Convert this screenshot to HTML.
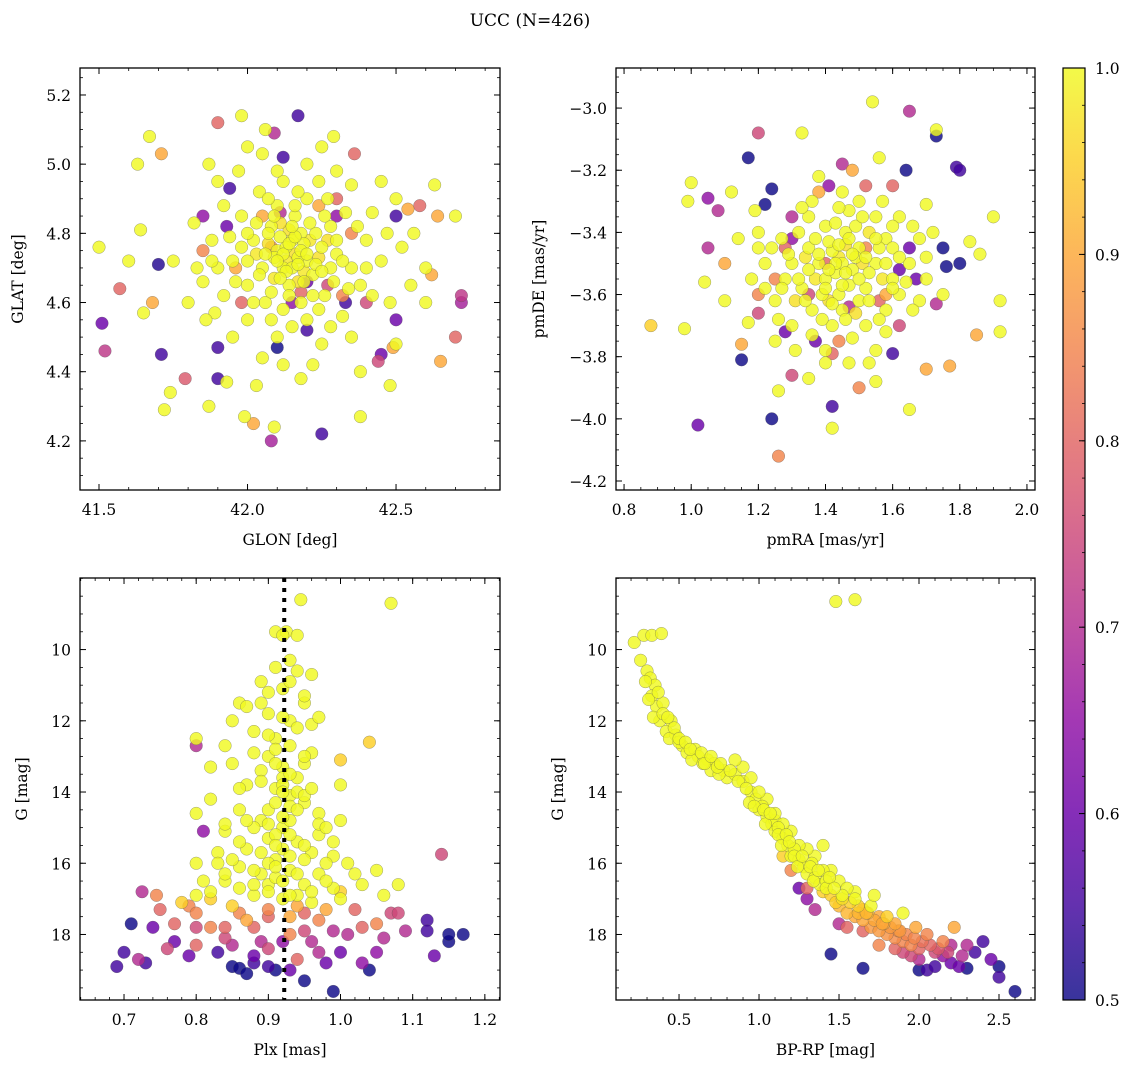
<!DOCTYPE html>
<html><head><meta charset="utf-8">
<style>
html,body{margin:0;padding:0;background:#fff;}
svg{display:block;font-family:"DejaVu Serif","Liberation Serif",serif;}
</style></head>
<body>
<svg id="fig" width="1136" height="1067" viewBox="0 0 1136 1067" xmlns="http://www.w3.org/2000/svg">
<text x="530" y="26" font-size="17" text-anchor="middle">UCC (N=426)</text>
</svg>
<script>
// ---- data ----
const panel1Points = [
[41.5,4.76,1],[41.51,4.54,0.6],[41.52,4.46,0.72],[41.57,4.64,0.8],[41.6,4.72,1],[41.65,4.57,1],[41.64,4.81,1],[41.67,5.08,1],[41.63,5.0,1],[41.71,5.03,0.9],[41.7,4.71,0.52],[41.71,4.45,0.55],[41.68,4.6,0.9],[41.72,4.29,1],[41.74,4.34,1],[41.79,4.38,0.78],[41.87,4.3,1],[41.9,4.47,0.55],[41.9,4.38,0.55],[41.89,4.57,1],[41.9,5.12,0.8],[41.98,5.14,1],[41.94,4.93,0.55],[41.87,5.0,1],[41.93,4.37,1],[41.99,4.27,1],[42.02,4.25,0.9],[42.09,4.24,1],[42.08,4.2,0.68],[42.25,4.22,0.55],[42.17,5.14,0.55],[42.09,5.09,0.7],[42.06,5.1,1],[42.29,5.08,1],[42.36,5.03,0.8],[42.38,4.27,1],[42.48,4.36,1],[42.64,4.85,0.9],[42.58,4.88,0.8],[42.54,4.87,0.9],[42.63,4.94,1],[42.7,4.85,1],[42.72,4.62,0.72],[42.72,4.6,0.68],[42.7,4.5,0.8],[42.62,4.68,0.9],[42.65,4.43,0.9],[42.49,4.47,0.9],[42.44,4.43,0.75],[42.5,4.85,0.55],[42.5,4.48,1],[42.6,4.6,1],[42.33,4.6,0.55],[42.2,4.52,0.55],[42.1,4.47,0.5],[42.18,4.38,1],[42.03,4.36,1],[42.05,5.03,1],[42.12,5.02,0.55],
[42.1,4.75,1],[42.15,4.78,1],[42.2,4.72,1],[42.12,4.7,1],[42.18,4.8,1],[42.08,4.82,1],[42.25,4.76,1],[42.05,4.7,1],[42.14,4.65,1],[42.22,4.68,1],[42.3,4.74,1],[42.16,4.85,1],[42.1,4.88,1],[42.02,4.78,1],[42.28,4.82,1],[42.2,4.9,1],[42.35,4.7,1],[42.0,4.65,1],[41.95,4.72,1],[42.06,4.6,1],[42.18,4.6,1],[42.26,4.62,1],[42.4,4.78,1],[42.33,4.86,1],[41.98,4.85,1],[42.12,4.95,1],[42.24,4.95,1],[42.38,4.65,1],[41.92,4.62,1],[42.08,4.55,1],[42.2,4.55,1],[42.32,4.56,1],[42.45,4.72,1],[41.88,4.78,1],[41.9,4.7,1],[42.04,4.92,1],[42.42,4.86,1],[42.13,4.76,1],[42.17,4.73,1],[42.11,4.79,1],[42.19,4.77,1],[42.15,4.7,1],[42.09,4.73,1],[42.23,4.8,1],[42.0,4.8,1],[42.28,4.7,1],[41.85,4.66,1],[41.82,4.83,1],[42.48,4.6,1],[42.52,4.76,1],[42.55,4.65,1],[42.35,4.5,1],[41.95,4.5,1],[42.1,4.5,1],[42.25,4.48,1],[41.8,4.6,1],[42.05,4.44,1],[42.45,4.95,1],[41.97,4.98,1],[42.3,4.98,1],[42.6,4.7,1],[41.75,4.72,1],
[42.16,4.74,0.97],[42.14,4.81,0.97],[42.21,4.78,0.98],[42.07,4.77,0.97],[42.19,4.69,0.98],[42.24,4.73,0.97],[42.13,4.72,0.98],[42.11,4.83,0.97],[42.27,4.78,0.97],[42.03,4.74,0.98],[42.17,4.66,0.97],[42.09,4.67,0.98],
[42.12,4.74,1],[42.14,4.77,1],[42.16,4.79,1],[42.18,4.75,1],[42.1,4.72,1],[42.2,4.74,1],[42.13,4.69,1],[42.17,4.71,1],[42.11,4.67,1],[42.19,4.66,1],[42.15,4.82,1],[42.21,4.83,1],[42.07,4.8,1],[42.09,4.85,1],[42.23,4.71,1],[42.25,4.69,1],[42.06,4.74,1],[42.04,4.68,1],[42.26,4.85,1],[42.03,4.83,1],[42.16,4.88,1],[42.14,4.62,1],[42.22,4.62,1],[42.08,4.63,1],[42.3,4.78,1],[42.29,4.66,1],[42.0,4.72,1],[41.98,4.76,1],[42.32,4.72,1],[42.12,4.58,1],[42.17,4.92,1],[42.07,4.9,1],[42.27,4.9,1],[42.34,4.64,1],[41.96,4.66,1],[42.02,4.6,1],[42.24,4.58,1],[42.37,4.82,1],[42.4,4.7,1],[41.94,4.79,1],[42.1,4.98,1],[42.2,5.0,1],[42.42,4.62,1],[42.35,4.94,1],[41.92,4.88,1],[42.15,4.53,1],[42.28,4.53,1],[42.0,4.55,1],[41.88,4.72,1],[42.47,4.8,1],[42.12,4.42,1],[41.83,4.7,1],[42.56,4.8,1],[42.22,4.42,1],[41.86,4.55,1],[42.38,4.4,1],[42.5,4.9,1],[41.9,4.95,1],[42.0,5.05,1],[42.25,5.05,1],
[42.08,4.76,0.85],[42.24,4.88,0.9],[42.18,4.63,0.8],[41.96,4.7,0.9],[42.32,4.62,0.85],[42.11,4.86,0.7],[42.2,4.66,0.6],[42.3,4.85,0.65],
[41.98,4.6,0.8],[42.3,4.9,0.8],[42.4,4.6,0.75],[41.85,4.75,0.85],[42.05,4.85,0.9],[42.35,4.8,0.85],[42.15,4.6,0.65],[41.93,4.82,0.6],[42.27,4.65,0.75],[42.5,4.55,0.6],[41.85,4.85,0.65],[42.45,4.45,0.6]
];
const panel2Points = [
[0.88,-3.7,0.95],[0.99,-3.3,1],[1.0,-3.24,1],[0.98,-3.71,1],[1.02,-4.02,0.6],[1.05,-3.29,0.65],[1.05,-3.45,0.7],[1.08,-3.33,0.7],[1.04,-3.56,1],[1.12,-3.27,1],[1.15,-3.81,0.5],[1.15,-3.76,0.9],[1.17,-3.16,0.5],[1.19,-3.33,1],[1.2,-3.08,0.75],[1.22,-3.31,0.5],[1.24,-3.26,0.5],[1.24,-4.0,0.5],[1.26,-4.12,0.85],[1.26,-3.91,1],[1.28,-3.72,0.6],[1.33,-3.08,1],[1.41,-3.25,0.65],[1.42,-3.96,0.55],[1.42,-4.03,1],[1.54,-2.98,1],[1.65,-3.01,0.7],[1.73,-3.07,1],[1.73,-3.09,0.5],[1.79,-3.19,0.55],[1.8,-3.2,0.55],[1.64,-3.2,0.5],[1.7,-3.31,1],[1.75,-3.45,0.5],[1.76,-3.51,0.5],[1.8,-3.5,0.5],[1.83,-3.43,1],[1.86,-3.47,1],[1.9,-3.35,1],[1.92,-3.62,1],[1.92,-3.72,1],[1.85,-3.73,0.9],[1.77,-3.83,0.9],[1.73,-3.63,0.7],[1.7,-3.84,0.9],[1.65,-3.97,1],[1.6,-3.79,0.55],[1.5,-3.9,0.85],[1.47,-3.82,1],[1.55,-3.88,1],[1.3,-3.86,0.75],[1.35,-3.87,1],[1.42,-3.79,0.8],[1.2,-3.66,0.75],[1.17,-3.69,1],[1.2,-3.6,0.85],[1.6,-3.25,0.8],[1.52,-3.25,0.8],[1.45,-3.18,0.7],[1.56,-3.16,1],[1.48,-3.2,0.9],[1.38,-3.27,0.9],[1.3,-3.35,0.7],[1.65,-3.45,0.6],[1.67,-3.55,0.6],[1.62,-3.7,0.75],[1.37,-3.75,0.6],[1.1,-3.5,0.9],[1.14,-3.42,1],[1.25,-3.55,0.85],[1.28,-3.45,0.8],[1.62,-3.35,1],[1.66,-3.38,1],[1.7,-3.48,1],[1.1,-3.62,1],[1.56,-3.62,0.8],
[1.45,-3.5,1],[1.42,-3.46,1],[1.48,-3.52,1],[1.5,-3.45,1],[1.4,-3.55,1],[1.38,-3.5,1],[1.52,-3.58,1],[1.46,-3.4,1],[1.44,-3.6,1],[1.35,-3.45,1],[1.55,-3.5,1],[1.33,-3.58,1],[1.58,-3.42,1],[1.4,-3.38,1],[1.5,-3.62,1],[1.36,-3.65,1],[1.6,-3.55,1],[1.3,-3.5,1],[1.47,-3.33,1],[1.55,-3.35,1],[1.27,-3.42,1],[1.62,-3.6,1],[1.42,-3.7,1],[1.52,-3.7,1],[1.25,-3.62,1],[1.28,-3.55,1],[1.58,-3.65,1],[1.35,-3.35,1],[1.43,-3.53,1],[1.49,-3.48,1],[1.41,-3.43,1],[1.53,-3.53,1],[1.47,-3.57,1],[1.39,-3.6,1],[1.56,-3.45,1],[1.32,-3.4,1],[1.22,-3.5,1],[1.65,-3.5,1],[1.6,-3.45,1],[1.45,-3.65,1],[1.3,-3.7,1],[1.2,-3.45,1],[1.68,-3.62,1],[1.36,-3.3,1],[1.5,-3.3,1],[1.25,-3.75,1],[1.55,-3.78,1],[1.4,-3.82,1],[1.18,-3.55,1],[1.72,-3.4,1],
[1.44,-3.48,0.98],[1.51,-3.5,0.97],[1.37,-3.55,0.98],[1.46,-3.44,0.97],[1.53,-3.4,0.98],[1.41,-3.62,0.97],[1.34,-3.48,0.98],[1.49,-3.66,0.97],[1.57,-3.55,0.98],[1.31,-3.62,0.97],
[1.43,-3.5,1],[1.46,-3.53,1],[1.48,-3.47,1],[1.41,-3.52,1],[1.44,-3.44,1],[1.5,-3.55,1],[1.38,-3.47,1],[1.45,-3.57,1],[1.52,-3.48,1],[1.4,-3.58,1],[1.47,-3.42,1],[1.35,-3.52,1],[1.55,-3.42,1],[1.42,-3.63,1],[1.53,-3.62,1],[1.37,-3.42,1],[1.58,-3.5,1],[1.32,-3.55,1],[1.49,-3.38,1],[1.43,-3.37,1],[1.6,-3.58,1],[1.34,-3.62,1],[1.46,-3.68,1],[1.56,-3.68,1],[1.29,-3.47,1],[1.62,-3.48,1],[1.39,-3.68,1],[1.51,-3.35,1],[1.27,-3.58,1],[1.64,-3.56,1],[1.44,-3.32,1],[1.33,-3.32,1],[1.57,-3.3,1],[1.36,-3.73,1],[1.48,-3.74,1],[1.6,-3.38,1],[1.24,-3.45,1],[1.66,-3.65,1],[1.4,-3.78,1],[1.53,-3.82,1],[1.22,-3.58,1],[1.7,-3.55,1],[1.31,-3.78,1],[1.45,-3.27,1],[1.58,-3.72,1],[1.26,-3.68,1],[1.68,-3.42,1],[1.2,-3.4,1],[1.75,-3.6,1],[1.38,-3.22,1],
[1.4,-3.5,0.8],[1.52,-3.45,0.85],[1.35,-3.6,0.75],[1.58,-3.6,0.9],[1.3,-3.42,0.65],[1.47,-3.64,0.7],[1.62,-3.52,0.6],[1.44,-3.75,0.85]
];
const panel3Points = [
[0.945,8.6,1],[1.07,8.7,1],[0.91,9.5,1],[0.925,9.5,1],[0.93,10.3,1],[0.94,10.6,1],[0.96,10.7,1],[0.89,10.9,1],[0.92,11.1,1],[0.86,11.5,1],[0.87,11.6,1],[0.9,11.8,1],[0.95,11.5,1],[0.93,12.0,1],[0.88,12.3,1],[0.91,12.5,1],[0.8,12.5,1],[0.84,12.7,1],[0.96,12.9,1],[0.9,13.0,1],[0.92,13.3,1],[0.94,13.6,1],[0.87,13.8,1],[0.91,13.9,1],[0.93,14.1,1],[0.82,14.2,1],[0.86,14.5,1],[0.8,14.6,1],[0.95,14.3,1],[0.97,14.6,1],[1.0,14.8,1],[0.89,14.8,1],[0.92,15.0,1],[0.84,15.1,1],[0.9,15.3,1],[0.94,15.4,1],[0.87,15.6,1],[0.83,15.7,1],[0.96,15.7,1],[0.99,15.8,1],[0.91,15.9,1],[0.8,16.0,1],[0.86,16.1,1],[0.89,16.3,1],[0.93,16.2,1],[0.97,16.3,1],[1.02,16.3,1],[1.05,16.2,1],[0.84,16.5,1],[0.9,16.6,1],[0.95,16.6,1],[0.99,16.7,1],[1.08,16.6,1],[0.82,16.8,1],[0.88,16.9,1],[0.92,17.0,1],[0.96,17.1,1],[1.0,17.0,1],[0.78,17.1,0.95],[0.85,17.2,0.95],[0.91,16.4,1],[0.93,14.8,1],[0.92,13.6,1],[1.04,12.6,0.95],[1.0,13.1,0.95],[0.94,14.0,1],[0.9,14.5,1],[0.88,15.0,1],[0.95,15.9,1],[0.91,12.8,1],
[0.92,13.8,1],[0.93,14.4,1],[0.91,15.2,1],[0.92,15.6,1],[0.9,16.0,1],[0.94,16.9,1],[0.89,13.4,1],[0.95,13.2,1],[0.88,16.6,1],[0.86,15.4,1],[0.97,15.2,1],[0.98,16.0,1],[0.85,13.2,1],
[0.92,9.6,1],[0.93,10.9,1],[0.95,11.3,1],[0.9,11.2,1],[0.92,11.9,1],[0.94,12.2,1],[0.9,12.4,1],[0.93,12.7,1],[0.95,13.0,1],[0.91,13.2,1],[0.93,13.5,1],[0.89,13.7,1],[0.92,14.0,1],[0.95,14.1,1],[0.91,14.3,1],[0.94,14.5,1],[0.92,14.7,1],[0.9,14.9,1],[0.93,15.2,1],[0.91,15.5,1],[0.95,15.5,1],[0.89,15.7,1],[0.93,15.8,1],[0.91,16.1,1],[0.94,16.3,1],[0.92,16.5,1],[0.9,16.8,1],[0.96,16.8,1],[0.93,16.9,1],[0.88,16.2,1],[0.86,16.7,1],[0.98,16.5,1],[0.85,15.9,1],[0.99,15.4,1],[0.87,14.8,1],[0.97,14.9,1],[0.86,13.9,1],[0.96,13.9,1],[0.88,12.9,1],[0.96,12.1,1],[0.84,16.3,1],[1.01,16.0,1],[0.83,16.0,1],[1.03,16.6,1],[0.81,16.5,1],[1.06,16.9,1],[0.8,16.9,1],[0.97,11.9,1],[0.89,11.5,1],[0.94,9.6,1],[0.91,10.5,1],[0.85,12.0,1],[1.0,13.8,1],[0.82,13.3,1],[0.98,15.0,1],[0.84,14.9,1],
[0.9,17.3,0.85],[0.95,17.4,0.8],[0.88,17.8,0.8],[0.99,17.9,0.7],[0.86,17.4,0.85],[0.92,18.2,0.65],[0.97,18.5,0.7],[0.85,18.3,0.7],[0.8,17.8,0.75],[1.03,17.8,0.8],[0.79,18.6,0.6],[0.88,18.8,0.55],[0.93,19.0,0.6],[1.05,18.5,0.65],[1.09,17.9,0.7],[0.75,17.3,0.8],
[0.8,12.7,0.7],[0.81,15.1,0.65],[0.69,18.9,0.55],[0.7,18.5,0.55],[0.71,17.7,0.5],[0.72,18.7,0.7],[0.73,18.8,0.55],[0.725,16.8,0.7],[0.74,17.8,0.6],[0.745,16.9,0.85],[0.77,17.7,0.8],[0.77,18.2,0.6],[0.79,17.2,0.85],[0.8,17.4,0.85],[0.8,18.3,0.8],[0.82,17.8,0.85],[0.83,18.5,0.55],[0.84,18.1,0.75],[0.85,18.9,0.5],[0.86,18.95,0.5],[0.87,19.1,0.5],[0.88,18.6,0.6],[0.89,18.2,0.7],[0.9,18.9,0.55],[0.91,19.0,0.5],[0.9,17.5,0.8],[0.93,18.0,0.85],[0.94,18.7,0.8],[0.95,19.3,0.5],[0.96,18.2,0.7],[0.97,17.6,0.85],[0.98,18.8,0.6],[0.99,19.6,0.5],[1.0,18.5,0.6],[1.01,18.0,0.7],[1.02,17.3,0.8],[1.03,18.8,0.65],[1.04,19.0,0.5],[1.05,17.7,0.85],[1.06,18.1,0.7],[1.07,17.4,0.75],[1.08,17.4,0.75],[1.12,17.6,0.55],[1.12,17.9,0.55],[1.13,18.6,0.6],[1.14,15.75,0.75],[1.15,18.2,0.5],[1.15,18.0,0.5],[1.17,18.0,0.5],[0.93,17.5,0.9],[0.87,17.6,0.9],[0.98,17.3,0.9],[0.84,17.8,0.8],[0.76,18.4,0.75],[1.0,16.8,0.95],[0.82,17.0,0.95],[0.95,17.9,0.75],[0.9,18.4,0.75],[0.94,17.2,0.9]
];
const panel4Points = [
[0.22,9.8,1],[0.28,9.6,1],[0.33,9.6,1],[0.39,9.55,1],[0.3,10.6,1],[0.32,10.8,1],[0.35,11.0,1],[0.33,11.3,1],[0.36,11.6,1],[0.4,11.5,1],[0.38,12.0,1],[0.42,12.3,1],[0.45,12.0,1],[0.48,12.4,1],[0.52,12.7,1],[0.55,12.9,1],[0.6,12.8,1],[0.62,13.0,1],[0.68,13.1,1],[0.72,13.2,1],[0.78,13.4,1],[0.8,13.6,1],[0.85,13.5,1],[0.9,13.7,1],[0.95,14.0,1],[0.98,14.2,1],[1.0,14.5,1],[1.05,14.7,1],[1.08,14.9,1],[1.1,15.1,1],[1.15,15.3,1],[1.18,15.5,1],[1.2,15.8,1],[1.25,15.9,1],[1.28,16.1,1],[1.3,16.3,1],[1.35,16.4,1],[1.38,16.6,1],[1.4,16.8,0.95],[1.45,16.9,0.95],[1.48,17.1,0.95],[1.5,17.2,0.92],[1.55,17.4,0.92],[1.6,17.5,0.9],[1.65,17.6,0.9],[1.7,17.8,0.88],[1.75,17.9,0.88],[1.8,18.0,0.87],[1.85,18.1,0.86],[1.9,18.2,0.85],[1.95,18.3,0.85],[2.0,18.4,0.8],
[1.48,8.65,1],[1.6,8.6,1],
[1.45,18.55,0.5],[1.65,18.95,0.5],[2.0,19.0,0.5],[2.05,19.0,0.55],[2.1,18.9,0.55],[2.2,18.8,0.6],[2.25,18.9,0.6],[2.3,18.95,0.5],[2.35,18.5,0.55],[2.4,18.2,0.55],[2.45,18.7,0.6],[2.5,18.9,0.5],[2.5,19.2,0.55],[2.6,19.6,0.5],[2.2,18.3,0.7],[2.1,18.5,0.75],[1.95,18.6,0.75],[1.85,18.4,0.8],[1.75,18.3,0.85],[2.22,17.8,0.9],[1.9,17.4,1],[1.65,17.3,0.9],[1.55,17.8,0.8],[1.5,17.7,0.7],[1.35,17.3,0.7],[1.3,17.0,0.65],[1.25,16.7,0.6],[1.35,15.8,1],[1.4,15.5,1],[1.2,15.1,1],[1.05,14.2,1],[0.9,13.3,1],[0.85,13.1,1],[1.0,14.0,1],[1.1,14.8,1],[1.15,14.9,1],[1.3,15.6,1],[1.45,16.2,1],[1.5,16.5,1],[1.6,16.8,1],[1.7,17.2,1],[1.8,17.5,0.95],[1.6,17.0,1],[1.55,16.7,1],[1.4,16.2,1],[1.25,15.5,1],[1.1,14.6,1],[0.95,13.6,1],[0.7,13.4,1],[0.58,13.1,1],[1.72,16.9,1],[1.85,17.7,0.9],[2.05,18.0,0.85],[2.15,18.2,0.85],[1.98,17.8,0.9],[1.75,17.5,0.9],[1.65,17.9,0.8],[2.3,18.3,0.7],[2.15,18.6,0.65],[1.3,16.7,0.8],[1.2,16.2,0.85],[1.15,15.8,0.95],[2.0,18.7,0.7],[1.9,18.5,0.75],
[0.34,11.9,1],[0.44,12.5,1],[0.5,12.6,1],[0.65,13.2,1],[0.75,13.5,1],[1.02,14.4,1],[1.12,15.0,1],[1.22,15.6,1],[1.33,16.0,1],[1.42,16.5,1],[1.52,16.9,1],[1.62,17.2,0.95],[1.68,17.4,0.92],[1.78,17.7,0.9],[1.88,17.9,0.88],
[0.26,10.3,1],[0.29,10.9,1],[0.31,11.4,1],[0.37,11.2,1],[0.4,11.8,1],[0.43,11.9,1],[0.47,12.2,1],[0.5,12.5,1],[0.54,12.6,1],[0.57,12.8,1],[0.64,12.9,1],[0.66,13.2,1],[0.7,13.0,1],[0.74,13.3,1],[0.76,13.2,1],[0.82,13.4,1],[0.87,13.7,1],[0.92,13.9,1],[0.94,14.3,1],[0.97,14.4,1],[1.03,14.5,1],[1.04,14.9,1],[1.07,14.6,1],[1.12,15.2,1],[1.14,15.5,1],[1.17,15.2,1],[1.19,15.4,1],[1.22,15.8,1],[1.24,16.1,1],[1.27,15.8,1],[1.32,16.1,1],[1.34,16.5,1],[1.37,16.2,1],[1.42,16.7,1],[1.44,16.4,1],[1.47,16.7,1],[1.52,17.0,0.97],[1.57,17.1,0.95],[1.62,17.4,0.92],[1.67,17.4,0.92],[1.72,17.6,0.9],[1.77,17.7,0.9],[1.82,17.8,0.88],[1.87,17.9,0.86],[1.92,18.0,0.85],[1.97,18.1,0.85],[2.02,18.2,0.82],[2.07,18.3,0.8],[2.12,18.4,0.78],[2.18,18.5,0.75],[2.27,18.6,0.7]
];
const plxMedian = [0.922];
const panel1XTicks = [41.5,42.0,42.5];
const panel1YTicks = [4.2,4.4,4.6,4.8,5.0,5.2];
const panel2XTicks = [0.8,1.0,1.2,1.4,1.6,1.8,2.0];
const panel2YTicks = [-3.0,-3.2,-3.4,-3.6,-3.8,-4.0,-4.2];
const panel3XTicks = [0.7,0.8,0.9,1.0,1.1,1.2];
const panel4XTicks = [0.5,1.0,1.5,2.0,2.5];
const magTicks = [10,12,14,16,18];
const cbarTicks = [0.5,0.6,0.7,0.8,0.9,1.0];

// ---- rendering ----
const NS = "http://www.w3.org/2000/svg";
const svg = document.getElementById('fig');
function mk(tag, attrs, parent){ const e=document.createElementNS(NS,tag); for(const k in attrs) e.setAttribute(k,attrs[k]); (parent||svg).appendChild(e); return e; }
const stops=[[0,[13,8,135]],[0.1,[65,4,157]],[0.2,[106,0,168]],[0.3,[143,13,164]],[0.4,[177,42,144]],[0.5,[204,71,120]],[0.6,[225,100,98]],[0.7,[242,132,75]],[0.8,[252,166,54]],[0.9,[252,206,37]],[1,[240,249,33]]];
function plasma(t){ t=Math.max(0,Math.min(1,t)); for(let i=1;i<stops.length;i++){ if(t<=stops[i][0]){ const a=stops[i-1],b=stops[i],f=(t-a[0])/(b[0]-a[0]); return 'rgb('+[0,1,2].map(j=>Math.round(a[1][j]+f*(b[1][j]-a[1][j]))).join(',')+')'; } } return 'rgb(240,249,33)'; }
function pcol(p){ return plasma((p-0.5)/0.5); }

function panel(cfg){
  const g=mk('g',{});
  
  
  const {x0,x1,y0,y1,xmin,xmax,ymin,ymax}=cfg;
  const sx=v=>x0+(v-xmin)/(xmax-xmin)*(x1-x0);
  const sy=cfg.invert? v=>y0+(v-ymin)/(ymax-ymin)*(y1-y0) : v=>y1-(v-ymin)/(ymax-ymin)*(y1-y0);
  const cp=mk('clipPath',{id:cfg.name+'-clip'},g); mk('rect',{x:x0,y:y0,width:x1-x0,height:y1-y0},cp);
  const pg=mk('g',{'clip-path':'url(#'+cfg.name+'-clip)'},g);
  const sorted=cfg.points.slice().sort((a,b)=>a[2]-b[2]);
  sorted.forEach(d=>{
    const c=mk('circle',{cx:sx(d[0]),cy:sy(d[1]),r:6.3,fill:pcol(d[2]),'fill-opacity':0.82,stroke:'#555','stroke-width':0.4,'stroke-opacity':0.7},pg);
    
    
  });
  if(cfg.vline){ const l=mk('line',{x1:sx(cfg.vline),x2:sx(cfg.vline),y1:y0,y2:y1,stroke:'#000','stroke-width':4,'stroke-dasharray':'4,6'},g);
    
     }
  mk('rect',{x:x0,y:y0,width:x1-x0,height:y1-y0,fill:'none',stroke:'#000','stroke-width':1.3},g);
  const eps=1e-9;
  for(let v=Math.ceil(xmin/cfg.xminor-eps)*cfg.xminor; v<=xmax+eps; v+=cfg.xminor){ const X=sx(v);
    mk('line',{x1:X,x2:X,y1:y1,y2:y1-3,stroke:'#000','stroke-width':0.8},g); mk('line',{x1:X,x2:X,y1:y0,y2:y0+3,stroke:'#000','stroke-width':0.8},g); }
  for(let v=Math.ceil(ymin/cfg.yminor-eps)*cfg.yminor; v<=ymax+eps; v+=cfg.yminor){ const Y=sy(v);
    mk('line',{x1:x0,x2:x0+3,y1:Y,y2:Y,stroke:'#000','stroke-width':0.8},g); mk('line',{x1:x1,x2:x1-3,y1:Y,y2:Y,stroke:'#000','stroke-width':0.8},g); }
  cfg.xticks.forEach(v=>{ const X=sx(v);
    mk('line',{x1:X,x2:X,y1:y1,y2:y1-6,stroke:'#000','stroke-width':1},g); mk('line',{x1:X,x2:X,y1:y0,y2:y0+6,stroke:'#000','stroke-width':1},g);
    const t=mk('text',{x:X,y:y1+25,'font-size':15.5,'text-anchor':'middle'},g); t.textContent=v.toFixed(cfg.xdec);
    
     });
  cfg.yticks.forEach(v=>{ const Y=sy(v);
    mk('line',{x1:x0,x2:x0+6,y1:Y,y2:Y,stroke:'#000','stroke-width':1},g); mk('line',{x1:x1,x2:x1-6,y1:Y,y2:Y,stroke:'#000','stroke-width':1},g);
    const t=mk('text',{x:x0-9,y:Y+6,'font-size':15.5,'text-anchor':'end'},g); t.textContent=(v<0?'\u2212':'')+Math.abs(v).toFixed(cfg.ydec);
    
     });
  const xl=mk('text',{x:(x0+x1)/2,y:y1+55,'font-size':15.5,'text-anchor':'middle'},g); xl.textContent=cfg.xlabel;
  
  
  const yl=mk('text',{x:cfg.ylx,y:(y0+y1)/2,'font-size':15.5,'text-anchor':'middle',transform:'rotate(-90 '+cfg.ylx+' '+(y0+y1)/2+')'},g); yl.textContent=cfg.ylabel;
  
  
}

panel({name:'glon-glat-panel',x0:80,x1:500,y0:68,y1:490,xmin:41.436,xmax:42.85,ymin:4.058,ymax:5.278,points:panel1Points,xticks:panel1XTicks,yticks:panel1YTicks,xminor:0.1,yminor:0.05,xdec:1,ydec:1,xlabel:'GLON [deg]',ylabel:'GLAT [deg]',ylx:23});
panel({name:'proper-motion-panel',x0:616,x1:1035,y0:68,y1:490,xmin:0.776,xmax:2.024,ymin:-4.229,ymax:-2.871,points:panel2Points,xticks:panel2XTicks,yticks:panel2YTicks,xminor:0.05,yminor:0.05,xdec:1,ydec:1,xlabel:'pmRA [mas/yr]',ylabel:'pmDE [mas/yr]',ylx:544});
panel({name:'plx-mag-panel',x0:80,x1:500,y0:578,y1:1000,xmin:0.639,xmax:1.221,ymin:7.99,ymax:19.84,invert:true,points:panel3Points,xticks:panel3XTicks,yticks:magTicks,xminor:0.02,yminor:0.5,xdec:1,ydec:0,xlabel:'Plx [mas]',ylabel:'G [mag]',ylx:27,vline:plxMedian[0]});
panel({name:'cmd-panel',x0:616,x1:1035,y0:578,y1:1000,xmin:0.106,xmax:2.725,ymin:7.99,ymax:19.84,invert:true,points:panel4Points,xticks:panel4XTicks,yticks:magTicks,xminor:0.1,yminor:0.5,xdec:1,ydec:0,xlabel:'BP-RP [mag]',ylabel:'G [mag]',ylx:563});

(function(){
  const cx0=1063,cx1=1085,cy0=68,cy1=1000;
  const g=mk('g',{});
  
  
  const defs=mk('defs',{},g);
  const lg=mk('linearGradient',{id:'cbgrad',x1:0,y1:1,x2:0,y2:0},defs);
  for(let i=0;i<=20;i++){ mk('stop',{offset:i/20,'stop-color':plasma(i/20),'stop-opacity':0.82},lg); }
  mk('rect',{x:cx0,y:cy0,width:cx1-cx0,height:cy1-cy0,fill:'url(#cbgrad)'},g);
  mk('rect',{x:cx0,y:cy0,width:cx1-cx0,height:cy1-cy0,fill:'none',stroke:'#000','stroke-width':1.2},g);
  const sy=v=>cy1-(v-0.5)/0.5*(cy1-cy0);
  for(let k=0;k<=25;k++){ const v=0.5+k*0.02, Y=sy(v); mk('line',{x1:cx1,x2:cx1-3,y1:Y,y2:Y,stroke:'#000','stroke-width':0.8},g); }
  cbarTicks.forEach(v=>{ const Y=sy(v); mk('line',{x1:cx1,x2:cx1-6,y1:Y,y2:Y,stroke:'#000','stroke-width':1},g);
    const t=mk('text',{x:cx1+10,y:Y+6,'font-size':15.5},g); t.textContent=v.toFixed(1);
    
     });
})();
</script>
</body></html>
